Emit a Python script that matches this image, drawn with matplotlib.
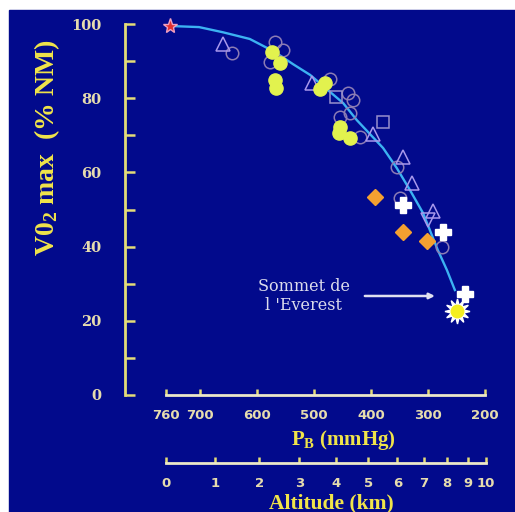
import numpy as np
import matplotlib
matplotlib.use("Agg")
import matplotlib.pyplot as plt
from matplotlib.patches import Rectangle

# ---------------- data ----------------
curve_p = [753, 702, 660, 613, 569, 537, 507, 449, 425, 379, 355, 332, 309, 297, 283, 267, 253]
curve_v = [99.5, 99.2, 97.8, 96.0, 92.5, 89.2, 86.3, 78.7, 74.1, 66.6, 61.2, 55.3, 49.1, 44.5, 39.1, 33.7, 28.3]

sea_p, sea_v = [753], [99.5]

circ_p = [644, 569, 555, 578, 472, 441, 432, 455, 437, 420, 355, 349, 276]
circ_v = [92.2, 95.1, 93.0, 89.8, 85.2, 81.4, 79.5, 74.9, 76.0, 69.5, 61.5, 53.1, 39.9]

tri_p = [660, 504, 397, 344, 328, 292]
tri_v = [94.6, 84.1, 70.4, 64.2, 57.1, 49.6]

tridown_p, tridown_v = [300], [47.2]

sq_p = [462, 379]
sq_v = [80.3, 73.6]

yel_p = [574, 560, 569, 567, 481, 490, 455, 456, 437]
yel_v = [92.5, 89.5, 84.9, 82.7, 84.1, 82.5, 72.2, 70.6, 69.3]

dia_p = [393, 344, 302]
dia_v = [53.4, 43.9, 41.5]

cross_p = [344, 274, 235]
cross_v = [51.2, 43.9, 27.2]

everest_p, everest_v = [250], [22.6]

y_major = [0, 20, 40, 60, 80, 100]
y_minor = [10, 30, 50, 70, 90]
pb_ticks = [760, 700, 600, 500, 400, 300, 200]
alt_ticks = [0, 1, 2, 3, 4, 5, 6, 7, 8, 9, 10]

# ---------------- style ----------------
BG = "#020a8c"
YEL = "#f0e44a"
TICKLAB = "#e6dcae"
SPINE_Y = "#e4dc78"
SPINE_X = "#ece8c8"

plt.rcParams["mathtext.fontset"] = "custom"
plt.rcParams["mathtext.rm"] = "Liberation Serif:bold"
plt.rcParams["mathtext.bf"] = "Liberation Serif:bold"
plt.rcParams["mathtext.it"] = "Liberation Serif:bold:italic"
SERIF = ["Liberation Serif", "DejaVu Serif"]

W, H = 515, 512
fig = plt.figure(figsize=(W / 100, H / 100), dpi=100, facecolor="white")
fig.patches.append(Rectangle((9 / W, 0), (W - 9) / W, (H - 10) / H,
                             transform=fig.transFigure, color=BG, zorder=-10))

def fx(px):
    return px / W

def fy(py):
    return (H - py) / H

ax = fig.add_axes([fx(125), fy(395), 380 / W, 382 / H])
ax.set_facecolor("none")
ax.set_xlim(832, 165)
ax.set_ylim(0, 103)

for s in ["top", "right"]:
    ax.spines[s].set_visible(False)
ax.spines["left"].set_bounds(0, 100)
ax.spines["left"].set_color(SPINE_Y)
ax.spines["left"].set_linewidth(2)
ax.spines["bottom"].set_bounds(200, 760)
ax.spines["bottom"].set_color(SPINE_X)
ax.spines["bottom"].set_linewidth(2)

ax.set_yticks(y_major)
ax.set_yticks(y_minor, minor=True)
ax.set_yticklabels([str(v) for v in y_major], fontfamily="DejaVu Serif",
                   fontweight="bold", fontsize=10.5, color=TICKLAB)
ax.tick_params(axis="y", which="both", direction="in", length=7, width=1.8,
               color=SPINE_Y, pad=17)

ax.set_xticks(pb_ticks)
ax.set_xticklabels([str(v) for v in pb_ticks], fontfamily="DejaVu Sans",
                   fontweight="bold", fontsize=9.5, color=TICKLAB)
ax.tick_params(axis="x", direction="in", length=4, width=1.8,
               color=SPINE_Y, pad=10)

# curve
ax.plot(curve_p, curve_v, color="#3cb2f2", lw=1.7, zorder=2, clip_on=False,
        solid_joinstyle="round")

mew = 1.1
ax.plot(circ_p, circ_v, "o", ms=9, mfc="none", mec="#8c7cb4", mew=mew, zorder=3, clip_on=False)
ax.plot(tri_p, tri_v, "^", ms=10, mfc="none", mec="#a898ec", mew=mew, zorder=3, clip_on=False)
ax.plot(tridown_p, tridown_v, "v", ms=10, mfc="none", mec="#a898ec", mew=mew, zorder=3, clip_on=False)
ax.plot(sq_p, sq_v, "s", ms=9, mfc="none", mec="#9890cc", mew=mew, zorder=3, clip_on=False)
ax.plot(yel_p, yel_v, "o", ms=9.5, mfc="#e2f24e", mec="#e2f24e", zorder=4, clip_on=False)
ax.plot(dia_p, dia_v, "D", ms=8, mfc="#f4a030", mec="#f4a030", zorder=4, clip_on=False)
ax.plot(cross_p, cross_v, "P", ms=11, mfc="white", mec="white", zorder=4, clip_on=False)
ax.plot(sea_p, sea_v, "*", ms=11, mfc="#e03030", mec="#f0a0c0", mew=1, zorder=5, clip_on=False)
ax.plot(everest_p, everest_v, marker=(12, 1, 0), ms=18, mfc="white", mec="white",
        ls="none", zorder=5, clip_on=False)
ax.plot(everest_p, everest_v, "o", ms=9, mfc="#f4ee20", mec="#f4ee20", zorder=6, clip_on=False)

# annotation
ax.annotate("", xy=(288, 26.7), xytext=(411, 26.7),
            arrowprops=dict(arrowstyle="-|>", color="#e0e0f0", lw=1.8,
                            mutation_scale=8, shrinkA=0, shrinkB=0))
ax.text(518, 26.7, "Sommet de\nl 'Everest", ha="center", va="center",
        fontfamily="DejaVu Serif", fontsize=11.5, color="#dcdcec", linespacing=1.1)

# y label
fig.text(fx(47), fy(148), "V0$_2$ max  (% NM)", rotation=90, ha="center",
         va="center", fontsize=20, color=YEL, fontfamily=SERIF, fontweight="bold")

# PB label
fig.text(fx(343), fy(440), r"P$_{\mathbf{B}}$ (mmHg)", ha="center", va="center",
         fontsize=15, color=YEL, fontfamily=SERIF, fontweight="bold")

# altitude axis
ax2 = fig.add_axes([fx(125), fy(463), 380 / W, 0.001])
ax2.set_facecolor("none")
ax2.set_xlim(832, 165)
for s in ["top", "right", "left"]:
    ax2.spines[s].set_visible(False)
ax2.set_yticks([])

def alt_to_p(h):
    return 760.0 * (1 - 0.0225577 * np.asarray(h, dtype=float)) ** 5.25588

alt_pos = alt_to_p(alt_ticks)
ax2.spines["bottom"].set_bounds(alt_pos[-1], 760)
ax2.spines["bottom"].set_color(SPINE_X)
ax2.spines["bottom"].set_linewidth(2)
ax2.set_xticks(alt_pos)
ax2.set_xticklabels([str(h) for h in alt_ticks], fontfamily="DejaVu Sans",
                    fontweight="bold", fontsize=9.5, color=TICKLAB)
ax2.tick_params(axis="x", direction="in", length=4, width=1.8,
                color=SPINE_Y, pad=10)

fig.text(fx(331), fy(503), "Altitude (km)", ha="center", va="center",
         fontfamily=SERIF, fontweight="bold", fontsize=15.5, color=YEL)

fig.savefig("out.png", dpi=100, facecolor="white")
